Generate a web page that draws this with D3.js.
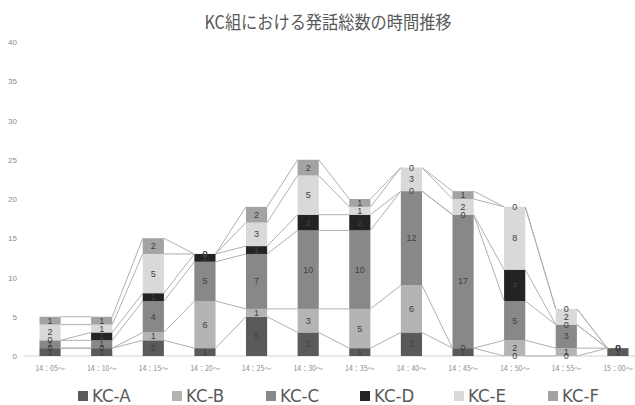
<!DOCTYPE html>
<html lang="ja">
<head>
  <meta charset="UTF-8">
  <title>KC組 発話総数</title>
  <script src="https://d3js.org/d3.v7.min.js"></script>
  <style>
    body { margin: 0; background: #fff; }
    svg { display: block; }
    text { font-family: 'Noto Sans CJK JP', 'Liberation Sans', sans-serif; }
    .num { font-family: 'Liberation Sans', 'DejaVu Sans', sans-serif; }
    .leg { font-family: 'Liberation Sans Narrow', 'DejaVu Sans Condensed', sans-serif; }
  </style>
</head>
<body>
<div id="chart"></div>
<script>
  // categories and series
  var times = ['14：05〜', '14：10〜', '14：15〜', '14：20〜', '14：25〜', '14：30〜',
    '14：35〜', '14：40〜', '14：45〜', '14：50〜', '14：55〜', '15：00〜'];
  var seriesNames = ['KC-A', 'KC-B', 'KC-C', 'KC-D', 'KC-E', 'KC-F'];
  var kcA = [1, 1, 2, 1, 5, 3, 1, 3, 1, 0, 0, 1];
  var kcB = [0, 0, 1, 6, 1, 3, 5, 6, 0, 2, 1, 0];
  var kcC = [1, 1, 4, 5, 7, 10, 10, 12, 17, 5, 3, 0];
  var kcD = [0, 1, 1, 1, 1, 2, 2, 0, 0, 4, 0, 0];
  var kcE = [2, 1, 5, 0, 3, 5, 1, 3, 2, 8, 2, 0];
  var kcF = [1, 1, 2, 0, 2, 2, 1, 0, 1, 0, 0, 0];
  var yTicks = [0, 5, 10, 15, 20, 25, 30, 35, 40];

  var colors = ['#5a5a5a', '#b4b4b4', '#888888', '#232323', '#d9d9d9', '#a3a3a3'];

  var W = 635, H = 405;
  var values = [kcA, kcB, kcC, kcD, kcE, kcF];

  var rows = times.map(function (t, i) {
    var r = {time: t};
    seriesNames.forEach(function (s, k) { r[s] = values[k][i]; });
    return r;
  });
  var stacked = d3.stack().keys(seriesNames)(rows);

  var x = d3.scaleBand()
    .domain(times)
    .range([24, 644])
    .paddingInner(0.59)
    .paddingOuter(0.3);
  var y = d3.scaleLinear().domain([0, 40]).range([356, 42]);
  var bw = x.bandwidth();

  var svg = d3.select('#chart').append('svg')
    .attr('width', W).attr('height', H);

  // title
  svg.append('text')
    .attr('transform', 'translate(328,29) scale(0.9,1)')
    .attr('text-anchor', 'middle')
    .attr('font-size', 18)
    .attr('fill', '#595959')
    .text('KC組における発話総数の時間推移');

  // y labels
  svg.append('g').selectAll('text')
    .data(yTicks).enter().append('text')
    .attr('class', 'num')
    .attr('x', 17).attr('y', function (d) { return y(d) + 3; })
    .attr('text-anchor', 'end')
    .attr('font-size', 8)
    .attr('fill', '#8a8a8a')
    .text(function (d) { return d; });

  // baseline
  svg.append('line')
    .attr('x1', 24).attr('x2', W)
    .attr('y1', y(0)).attr('y2', y(0))
    .attr('stroke', '#d0d0d0').attr('stroke-width', 1);

  // bars
  var layers = svg.append('g').selectAll('g')
    .data(stacked).enter().append('g')
    .attr('fill', function (d, i) { return colors[i]; });

  layers.selectAll('rect')
    .data(function (d) { return d; })
    .enter().append('rect')
    .attr('x', function (d) { return x(d.data.time); })
    .attr('y', function (d) { return y(d[1]); })
    .attr('width', bw)
    .attr('height', function (d) { return y(d[0]) - y(d[1]); });

  // series lines between bars
  var lineG = svg.append('g')
    .attr('stroke', '#b0b0b0').attr('stroke-width', 1).attr('fill', 'none');
  stacked.forEach(function (layer) {
    for (var i = 0; i < layer.length - 1; i++) {
      lineG.append('line')
        .attr('x1', x(times[i]) + bw).attr('y1', y(layer[i][1]))
        .attr('x2', x(times[i + 1])).attr('y2', y(layer[i + 1][1]));
    }
  });

  // data labels
  var labG = svg.append('g');
  stacked.forEach(function (layer) {
    layer.forEach(function (d) {
      labG.append('text')
        .attr('class', 'num')
        .attr('x', x(d.data.time) + bw / 2)
        .attr('y', (y(d[0]) + y(d[1])) / 2 + 3)
        .attr('text-anchor', 'middle')
        .attr('font-size', 9)
        .attr('fill', '#404040')
        .text(d[1] - d[0]);
    });
  });

  // x labels
  svg.append('g').selectAll('text')
    .data(times).enter().append('text')
    .attr('x', function (d) { return x(d) + bw / 2; })
    .attr('y', 371)
    .attr('text-anchor', 'middle')
    .attr('font-size', 7)
    .attr('fill', '#8a8a8a')
    .text(function (d) { return d; });

  // legend
  var legend = svg.append('g').selectAll('g')
    .data(seriesNames).enter().append('g')
    .attr('transform', function (d, i) { return 'translate(' + (78 + i * 94) + ',396)'; });
  legend.append('rect')
    .attr('x', 0).attr('y', -5).attr('width', 10).attr('height', 10)
    .attr('fill', function (d, i) { return colors[i]; });
  legend.append('text')
    .attr('class', 'leg')
    .attr('x', 14).attr('y', 6)
    .attr('font-size', 18.5)
    .attr('fill', '#595959')
    .text(function (d) { return d; });
</script>
</body>
</html>
